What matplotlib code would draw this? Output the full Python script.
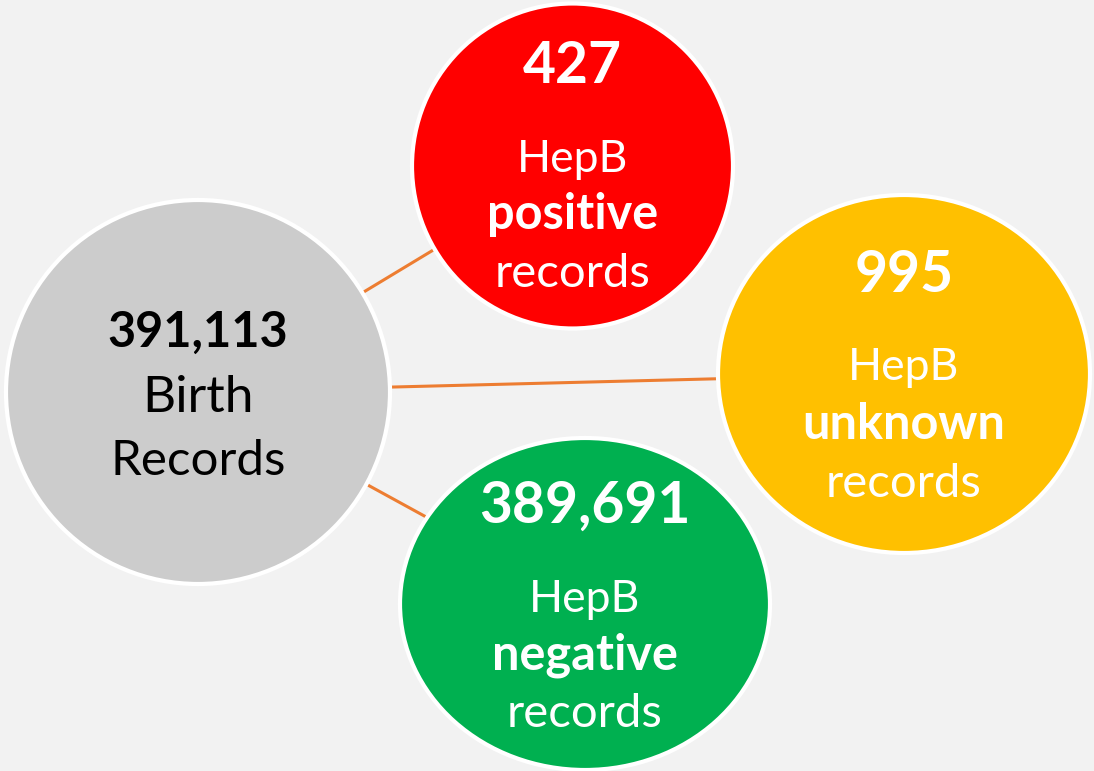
import matplotlib.pyplot as plt
from matplotlib.patches import Ellipse

plt.rcParams['font.family'] = ['Lato', 'DejaVu Sans']

# Node values and labels
counts = ['391,113', '427', '995', '389,691']
first_line = ['Birth', 'HepB', 'HepB', 'HepB']
second_line = ['Records', 'positive', 'unknown', 'negative']
third_line = ['', 'records', 'records', 'records']
face_colors = ['#cccccc', '#ff0000', '#ffc000', '#00b050']
text_colors = ['black', 'white', 'white', 'white']

# Layout in pixels (x, y from top-left), width, height
centers = [(198, 392), (572.5, 166), (904, 374), (585, 604)]
widths = [384, 321, 372, 370]
heights = [384, 325, 358, 332]

fig = plt.figure(figsize=(10.94, 7.71), dpi=100)
fig.patch.set_facecolor('#f2f2f2')
ax = fig.add_axes([0, 0, 1, 1])
ax.set_xlim(0, 1094)
ax.set_ylim(771, 0)
ax.axis('off')

# connector lines between the hub and the three outcome nodes
hub = centers[0]
for c in centers[1:]:
    ax.plot([hub[0], c[0]], [hub[1], c[1]], color='#ed7d31', lw=2.2, zorder=1)

for i, (cx, cy) in enumerate(centers):
    ax.add_patch(Ellipse((cx, cy), widths[i], heights[i], facecolor=face_colors[i],
                         edgecolor='white', lw=3, zorder=2))

tc = text_colors
# hub text
ax.text(hub[0], 347, counts[0], ha='center', va='baseline', fontsize=35,
        fontweight='bold', color=tc[0], zorder=3)
ax.text(hub[0], 412, first_line[0], ha='center', va='baseline', fontsize=37,
        color=tc[0], zorder=3)
ax.text(hub[0], 475, second_line[0], ha='center', va='baseline', fontsize=35.5,
        color=tc[0], zorder=3)

# outcome nodes: baselines of the four lines
baselines = [None, (83, 172, 229, 287), (292, 380, 439, 497), (523, 612, 669, 727)]
for i in range(1, 4):
    cx = centers[i][0]
    b = baselines[i]
    ax.text(cx, b[0], counts[i], ha='center', va='baseline', fontsize=41,
            fontweight='bold', color=tc[i], zorder=3)
    ax.text(cx, b[1], first_line[i], ha='center', va='baseline', fontsize=32,
            color=tc[i], zorder=3)
    ax.text(cx, b[2], second_line[i], ha='center', va='baseline', fontsize=35,
            fontweight='bold', color=tc[i], zorder=3)
    ax.text(cx, b[3], third_line[i], ha='center', va='baseline', fontsize=34,
            color=tc[i], zorder=3)

fig.savefig('out.png', dpi=100, facecolor=fig.get_facecolor())
